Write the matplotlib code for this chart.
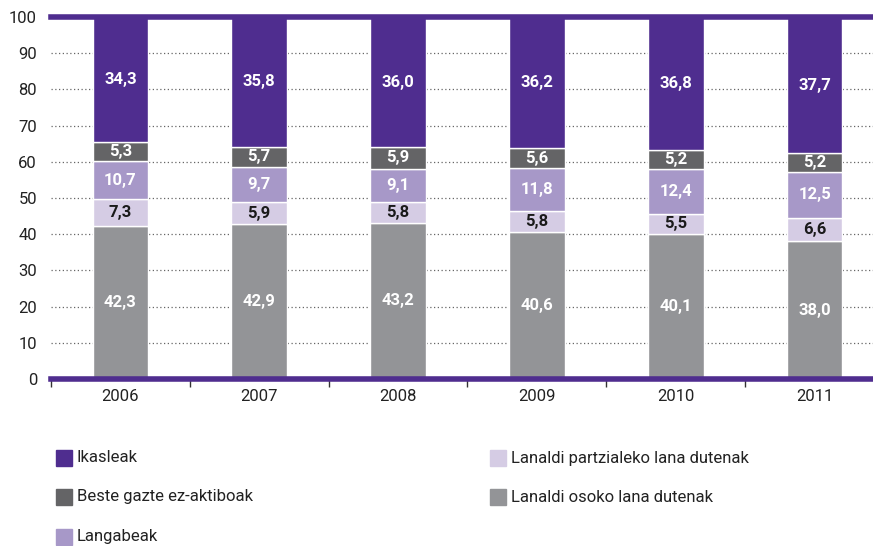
import matplotlib
matplotlib.use("Agg")
import matplotlib.pyplot as plt
from matplotlib.patches import Rectangle
import numpy as np

years = ["2006", "2007", "2008", "2009", "2010", "2011"]
osoko = [42.3, 42.9, 43.2, 40.6, 40.1, 38.0]
partzial = [7.3, 5.9, 5.8, 5.8, 5.5, 6.6]
langabe = [10.7, 9.7, 9.1, 11.8, 12.4, 12.5]
beste = [5.3, 5.7, 5.9, 5.6, 5.2, 5.2]
ikasle = [34.3, 35.8, 36.0, 36.2, 36.8, 37.7]

names = ["Lanaldi osoko lana dutenak", "Lanaldi partzialeko lana dutenak",
         "Langabeak", "Beste gazte ez-aktiboak", "Ikasleak"]
series = [osoko, partzial, langabe, beste, ikasle]
colors = ["#939497", "#D5CCE4", "#A798C8", "#646466", "#4F2D8F"]
txtcol = ["white", "#1a1a1a", "white", "white", "white"]

plt.rcParams['font.family'] = ['Roboto', 'DejaVu Sans']

fig = plt.figure(figsize=(8.73, 5.46), dpi=100)
ax = fig.add_axes([51/873, 1-379/546, 833/873, (379-17)/546])

x = np.arange(len(years))
bottom = np.zeros(len(years))
for vals, c, tc in zip(series, colors, txtcol):
    vals = np.array(vals)
    ax.bar(x, vals, 0.40, bottom=bottom, color=c, edgecolor="white", linewidth=1, zorder=3)
    for xi, b, v in zip(x, bottom, vals):
        ax.text(xi, b + v/2, f"{v:.1f}".replace(".", ","), ha="center", va="center",
                color=tc, fontsize=12, fontweight="bold", zorder=4)
    bottom += vals

ax.set_xlim(-0.5, 5.5)
ax.set_ylim(0, 100)
for s in ax.spines.values():
    s.set_visible(False)
for yv in range(10, 100, 10):
    ax.axhline(yv, color="#666666", linestyle=(0, (1, 2)), linewidth=0.9, zorder=1)
ax.axhline(100, color="#4F2D8F", linewidth=4, zorder=5, clip_on=False)
ax.axhline(0, color="#4F2D8F", linewidth=4, zorder=5, clip_on=False)

ax.set_yticks(range(0, 101, 10))
ax.set_yticklabels([str(v) for v in range(0, 101, 10)], fontsize=12, color="#222222")
ax.tick_params(axis="y", length=0, pad=10)
ax.set_xticks(np.arange(-0.5, 6, 1))
ax.set_xticklabels([""] * 7)
ax.tick_params(axis="x", length=6, width=1, color="#333333", direction="out")
ax.set_xticks(x, minor=True)
ax.set_xticklabels(years, minor=True, fontsize=12, color="#222222")
ax.tick_params(axis="x", which="minor", length=0, pad=7)

# legend
leg_order = [(4, 56, 458), (3, 56, 497), (2, 56, 537), (1, 490, 458), (0, 490, 497)]
for idx, px, py in leg_order:
    fig.add_artist(Rectangle((px/873, 1-(py+8)/546), 16/873, 16/546,
                             transform=fig.transFigure, color=colors[idx]))
    fig.text((px+21)/873, 1-py/546, names[idx], fontsize=12, va="center",
             ha="left", color="#222222", fontstretch="condensed")

fig.savefig("out.png", dpi=100)
